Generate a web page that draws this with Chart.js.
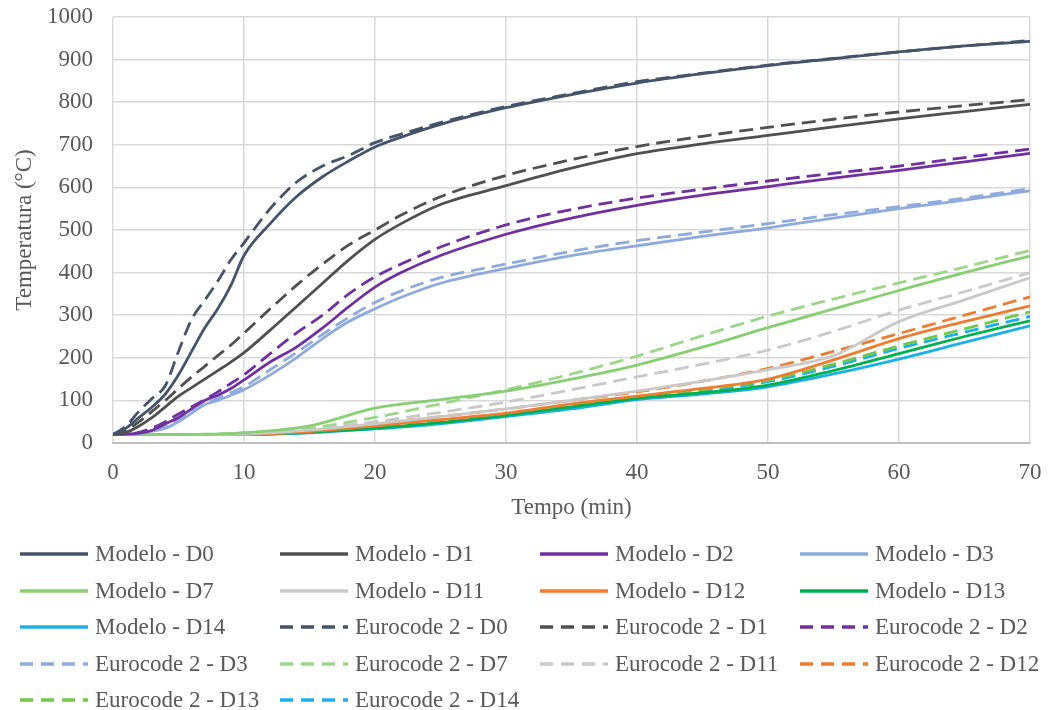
<!DOCTYPE html>
<html>
<head>
<meta charset="utf-8">
<script src="https://cdn.jsdelivr.net/npm/chart.js@4"></script>
<style>
    body { margin: 0; background: #fff; }
    #wrap { position: relative; width: 1049px; height: 710px; }
    #chartBox { position: absolute; left: 0; top: 0; width: 1049px; height: 530px; }
    #legend { position: absolute; left: 0; top: 0; width: 1049px; height: 710px; pointer-events: none; }
    .item { position: absolute; display: flex; align-items: center; height: 36px;
            font-family: 'Liberation Serif', 'Times New Roman', serif; font-size: 23px; color: #595959; white-space: nowrap; }
    .item svg { margin-right: 7px; }
</style>
</head>
<body>
<div id="wrap">
    <div id="chartBox"><canvas id="tempChart"></canvas></div>
    <div id="legend"></div>
</div>
<script>
// Time axis (min)
const tHigh = [0, 1, 2, 3, 4, 5, 6, 7, 8, 9, 10, 12, 14, 16, 18, 20, 22, 25, 30, 35, 40, 45, 50, 55, 60, 65, 70];
const tLow = [0, 5, 10, 15, 20, 25, 30, 35, 40, 45, 50, 55, 60, 65, 70];

// Temperatures (°C)
const modeloD0 = [20, 35, 60, 85, 115, 160, 215, 270, 315, 370, 440, 515, 578, 625, 662, 695, 718, 748, 787, 818, 845, 867, 886, 902, 918, 932, 943];
const modeloD1 = [20, 25, 40, 60, 85, 110, 130, 150, 170, 190, 212, 265, 320, 375, 430, 478, 515, 560, 604, 645, 679, 702, 722, 742, 761, 778, 795];
const modeloD2 = [20, 21, 23, 30, 45, 60, 80, 100, 112, 128, 148, 190, 225, 270, 320, 366, 400, 440, 490, 528, 558, 582, 602, 622, 640, 660, 680];
const modeloD3 = [20, 20, 22, 28, 35, 50, 70, 90, 100, 112, 125, 160, 200, 245, 285, 315, 342, 375, 410, 440, 463, 485, 505, 528, 550, 570, 592];
const modeloD7 = [20, 20, 24, 40, 82, 102, 122, 150, 183, 225, 271, 315, 358, 400, 439];
const modeloD11 = [20, 20, 21, 30, 45, 62, 80, 100, 122, 145, 172, 205, 285, 336, 388];
const modeloD12 = [20, 20, 20, 27, 40, 55, 70, 92, 110, 128, 150, 195, 245, 285, 322];
const modeloD13 = [20, 20, 20, 25, 35, 48, 65, 85, 105, 118, 136, 170, 210, 250, 287];
const modeloD14 = [20, 20, 20, 24, 33, 45, 62, 80, 102, 115, 132, 162, 197, 236, 275];

const ecD0 = [20, 40, 75, 105, 135, 215, 290, 335, 380, 430, 470, 550, 612, 650, 675, 705, 725, 752, 790, 820, 848, 868, 887, 903, 918, 932, 945];
const ecD1 = [20, 30, 50, 75, 100, 128, 155, 180, 205, 230, 258, 315, 370, 420, 465, 500, 535, 578, 628, 665, 696, 720, 741, 760, 777, 792, 806];
const ecD2 = [20, 21, 25, 35, 50, 68, 85, 102, 120, 140, 160, 210, 258, 300, 350, 390, 420, 460, 512, 548, 575, 596, 615, 633, 650, 670, 690];
const ecD3 = [20, 20, 22, 28, 38, 55, 72, 92, 105, 118, 132, 172, 212, 255, 295, 330, 357, 388, 420, 450, 475, 495, 515, 536, 555, 575, 597];
const ecD7 = [20, 20, 24, 35, 60, 92, 125, 162, 204, 252, 298, 338, 376, 413, 452];
const ecD11 = [20, 20, 22, 32, 50, 72, 96, 125, 155, 185, 218, 262, 312, 355, 400];
const ecD12 = [20, 20, 21, 30, 45, 62, 80, 100, 120, 145, 175, 215, 257, 300, 343];
const ecD13 = [20, 20, 20, 27, 40, 53, 68, 90, 108, 125, 147, 185, 228, 268, 308];
const ecD14 = [20, 20, 20, 26, 38, 50, 65, 87, 106, 122, 144, 180, 222, 260, 297];

const COLORS = {
    D0: '#44546A', D1: '#505050', D2: '#7030A0', D3: '#8FAADC', D7: '#88CF74',
    D11: '#C9C9C9', D12: '#ED7D31', D13: '#00B050', D14: '#1BB0EC',
    ecD7: '#9DD68A', ecD13: '#74C74A'
};
const DASH = [14, 7];

function toPoints(times, values) {
    return values.map((v, i) => ({ x: times[i], y: v }));
}

function series(label, times, values, color, dashed) {
    return {
        label: label,
        data: toPoints(times, values),
        borderColor: color,
        backgroundColor: color,
        borderWidth: 2.8,
        borderDash: dashed ? DASH : [],
        pointRadius: 0,
        pointHoverRadius: 0,
        cubicInterpolationMode: 'monotone',
        fill: false
    };
}

const datasets = [
    series('Modelo - D0', tHigh, modeloD0, COLORS.D0, false),
    series('Modelo - D1', tHigh, modeloD1, COLORS.D1, false),
    series('Modelo - D2', tHigh, modeloD2, COLORS.D2, false),
    series('Modelo - D3', tHigh, modeloD3, COLORS.D3, false),
    series('Modelo - D7', tLow, modeloD7, COLORS.D7, false),
    series('Modelo - D11', tLow, modeloD11, COLORS.D11, false),
    series('Modelo - D12', tLow, modeloD12, COLORS.D12, false),
    series('Modelo - D13', tLow, modeloD13, COLORS.D13, false),
    series('Modelo - D14', tLow, modeloD14, COLORS.D14, false),
    series('Eurocode 2 - D0', tHigh, ecD0, COLORS.D0, true),
    series('Eurocode 2 - D1', tHigh, ecD1, COLORS.D1, true),
    series('Eurocode 2 - D2', tHigh, ecD2, COLORS.D2, true),
    series('Eurocode 2 - D3', tHigh, ecD3, COLORS.D3, true),
    series('Eurocode 2 - D7', tLow, ecD7, COLORS.ecD7, true),
    series('Eurocode 2 - D11', tLow, ecD11, COLORS.D11, true),
    series('Eurocode 2 - D12', tLow, ecD12, COLORS.D12, true),
    series('Eurocode 2 - D13', tLow, ecD13, COLORS.ecD13, true),
    series('Eurocode 2 - D14', tLow, ecD14, COLORS.D14, true)
];

const FONT = { family: "'Liberation Serif', 'Times New Roman', serif", size: 23 };
const TEXT_COLOR = '#595959';
const GRID_COLOR = '#d9d9d9';

const ctx = document.getElementById('tempChart').getContext('2d');
const tempChart = new Chart(ctx, {
    type: 'line',
    data: { datasets: datasets },
    options: {
        responsive: true,
        maintainAspectRatio: false,
        animation: false,
        layout: { padding: { top: 17, right: 19, left: 0, bottom: 0 } },
        plugins: {
            legend: { display: false },
            tooltip: { enabled: false }
        },
        scales: {
            x: {
                type: 'linear',
                min: 0,
                max: 70,
                ticks: { stepSize: 10, color: TEXT_COLOR, font: FONT, padding: 16, maxRotation: 0,
                         callback: (v) => String(v) },
                grid: { color: GRID_COLOR, lineWidth: 1.5, drawTicks: false },
                border: { color: '#bfbfbf', width: 2 },
                title: { display: true, text: 'Tempo (min)', color: TEXT_COLOR, font: FONT, padding: { top: 4, bottom: 8 } },
                afterFit: (scale) => {
                    scale.height = 87;
                    scale.paddingLeft = 0;
                    scale.paddingRight = 0;
                }
            },
            y: {
                min: 0,
                max: 1000,
                ticks: { stepSize: 100, color: TEXT_COLOR, font: FONT, padding: 20,
                         callback: (v) => String(v) },
                grid: { color: GRID_COLOR, lineWidth: 1.5, drawTicks: false },
                border: { display: false },
                title: { display: true, text: 'Temperatura (°C)', color: TEXT_COLOR, font: FONT, padding: { top: 11, bottom: 4 } },
                afterFit: (scale) => {
                    scale.width = 113;
                    scale.paddingTop = 0;
                    scale.paddingBottom = 0;
                }
            }
        }
    }
});

// HTML legend laid out as a 4-column grid
function buildLegend(chart) {
    const box = document.getElementById('legend');
    chart.data.datasets.forEach((ds, i) => {
        const col = i % 4;
        const row = Math.floor(i / 4);
        const item = document.createElement('div');
        item.className = 'item';
        item.style.left = (20 + col * 260) + 'px';
        item.style.top = (536 + row * 36.5) + 'px';
        const dash = ds.borderDash.length ? 'stroke-dasharray="13 8"' : '';
        item.innerHTML =
            '<svg width="68" height="6"><line x1="0" y1="3" x2="68" y2="3" stroke="' + ds.borderColor +
            '" stroke-width="3.6" ' + dash + '/></svg><span>' + ds.label + '</span>';
        box.appendChild(item);
    });
}
buildLegend(tempChart);
</script>
</body>
</html>
